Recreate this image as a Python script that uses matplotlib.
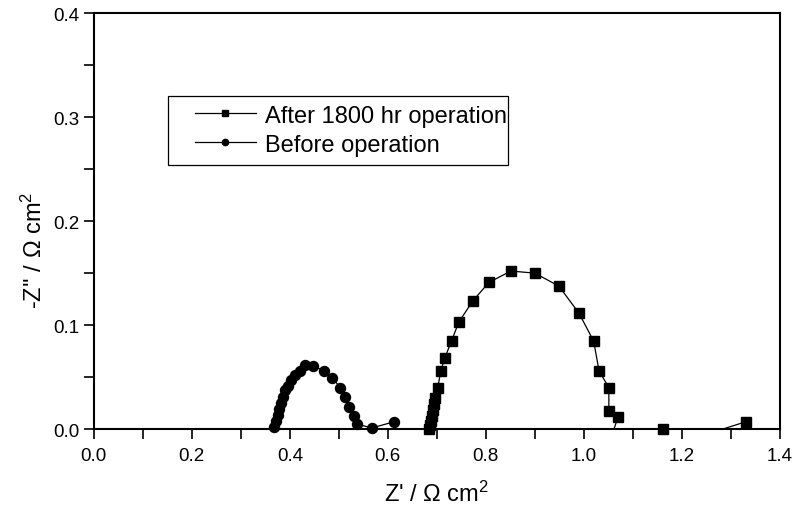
import matplotlib
matplotlib.use("Agg")
import matplotlib.pyplot as plt
import numpy as np
from matplotlib.ticker import MultipleLocator, FormatStrFormatter
from matplotlib.patches import Rectangle

plt.rcParams['font.family'] = ['Liberation Sans', 'DejaVu Sans']
plt.rcParams['mathtext.default'] = 'regular'

# impedance spectra, Z' and -Z'' in ohm cm^2
z_re_after = [0.684, 0.686, 0.688, 0.690, 0.692, 0.695, 0.697, 0.702, 0.708,
              0.716, 0.730, 0.745, 0.773, 0.806, 0.851, 0.900, 0.949, 0.990,
              1.020, 1.031, 1.051, 1.051, 1.070, 1.040, 1.161, 1.220, 1.330]
z_im_after = [0.000, 0.004, 0.008, 0.013, 0.018, 0.024, 0.030, 0.040, 0.056,
              0.068, 0.085, 0.103, 0.123, 0.141, 0.152, 0.150, 0.1375, 0.1115,
              0.0846, 0.0558, 0.040, 0.017, 0.012, -0.030, 0.000, -0.0095, 0.007]

z_re_before = [0.368, 0.372, 0.375, 0.378, 0.382, 0.386, 0.390, 0.396, 0.403,
               0.411, 0.420, 0.431, 0.448, 0.469, 0.487, 0.503, 0.513, 0.521,
               0.530, 0.537, 0.567, 0.612]
z_im_before = [0.002, 0.008, 0.0135, 0.019, 0.025, 0.031, 0.0375, 0.0417, 0.047,
               0.052, 0.056, 0.0615, 0.061, 0.056, 0.049, 0.040, 0.0305, 0.021,
               0.013, 0.005, 0.001, 0.007]

labels = ['After 1800 hr operation', 'Before operation']

fig = plt.figure(figsize=(7.95, 5.06), dpi=100)
ax = fig.add_axes([0.118, 0.150, 0.863, 0.822])

series = [(z_re_after, z_im_after, 's'), (z_re_before, z_im_before, 'o')]
for (x, y, m), lab in zip(series, labels):
    x = np.array(x)
    y = np.array(y)
    ax.plot(x, y, '-', color='black', lw=0.9)
    keep = y >= 0
    ax.plot(x[keep], y[keep], ls='none', marker=m, color='black',
            markersize=7.2, clip_on=False, zorder=3)
    # legend proxy
    ax.plot([], [], '-', color='black', lw=0.9, marker=m, markersize=4.5,
            label=lab)

ax.set_xlim(0, 1.4)
ax.set_ylim(0, 0.4)
ax.xaxis.set_major_locator(MultipleLocator(0.2))
ax.xaxis.set_minor_locator(MultipleLocator(0.1))
ax.yaxis.set_major_locator(MultipleLocator(0.1))
ax.yaxis.set_minor_locator(MultipleLocator(0.05))
ax.xaxis.set_major_formatter(FormatStrFormatter('%.1f'))
ax.yaxis.set_major_formatter(FormatStrFormatter('%.1f'))
ax.tick_params(which='both', direction='out', length=7, width=1.2,
               top=False, right=False, labelsize=13.5)
ax.tick_params(axis='x', pad=6)
for s in ax.spines.values():
    s.set_linewidth(1.5)

ax.set_xlabel("Z' / Ω cm$^2$", fontsize=17, labelpad=12)
ax.set_ylabel("-Z'' / Ω cm$^2$", fontsize=17)
ax.yaxis.set_label_coords(-0.069, 0.433)

# legend box drawn separately so the handles can sit away from its left edge
ax.add_patch(Rectangle((0.108, 0.635), 0.495, 0.165, transform=ax.transAxes,
                       fill=False, edgecolor='black', lw=0.9, zorder=4))
ax.legend(loc='upper left', bbox_to_anchor=(0.147, 0.780), fontsize=17,
          frameon=False, handlelength=2.6, borderpad=0, borderaxespad=0,
          labelspacing=0.3, handletextpad=0.38)

fig.savefig('out.png', dpi=100)
